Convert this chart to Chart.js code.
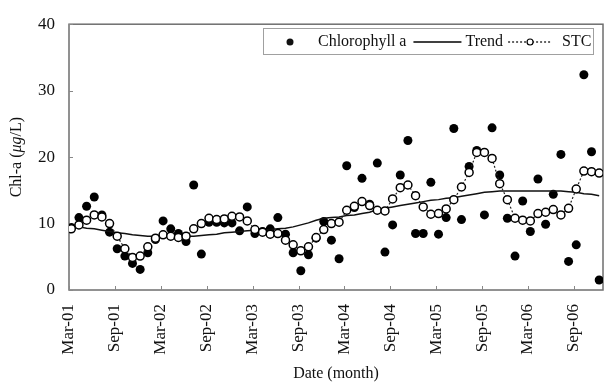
<!DOCTYPE html>
<html>
<head>
<meta charset="utf-8">
<script src="https://cdn.jsdelivr.net/npm/chart.js@4.4.1/dist/chart.umd.min.js"></script>
<style>
  html, body { margin: 0; padding: 0; background: #fff; }
  #wrap { width: 611px; height: 387px; }
</style>
</head>
<body>
<div id="wrap"><canvas id="graficoChl"></canvas></div>
<script>
// monthly samples, Mar-01 .. Dec-06 (70 months)
const chlA = [9.4, 10.9, 12.6, 14.0, 11.3, 8.7, 6.2, 5.1, 4.0, 3.1,
  5.6, 7.6, 10.4, 9.2, 8.5, 7.3, 15.8, 5.4, 10.2, 10.2,
  10.1, 10.1, 8.9, 12.5, 8.5, 8.8, 9.2, 10.9, 8.4, 5.6,
  2.9, 5.3, 7.8, 10.3, 7.5, 4.7, 18.7, 12.4, 16.8, 12.9,
  19.1, 5.7, 9.8, 17.3, 22.5, 8.5, 8.5, 16.2, 8.4, 10.9,
  24.3, 10.6, 18.6, 21.0, 11.3, 24.4, 17.3, 10.8, 5.1, 13.4,
  8.8, 16.7, 9.9, 14.4, 20.4, 4.3, 6.8, 32.4, 20.8, 1.5];

const trend = [9.6, 9.5, 9.3, 9.2, 9.0, 8.8, 8.6, 8.5, 8.3, 8.2,
  8.1, 8.1, 8.1, 8.1, 8.1, 8.1, 8.1, 8.2, 8.3, 8.4,
  8.6, 8.7, 8.8, 8.9, 9.0, 9.0, 9.1, 9.2, 9.3, 9.5,
  9.8, 10.1, 10.5, 10.8, 10.9, 11.0, 11.2, 11.3, 11.5, 11.7,
  12.1, 12.3, 12.5, 12.7, 12.9, 13.1, 13.3, 13.5, 13.6, 13.8,
  13.9, 14.1, 14.3, 14.5, 14.7, 14.8, 14.9, 14.9, 14.9, 14.9,
  14.9, 14.9, 14.9, 14.9, 14.9, 14.8, 14.7, 14.5, 14.4, 14.2];

const stc = [9.2, 9.8, 10.5, 11.3, 11.0, 10.0, 8.1, 6.2, 4.9, 5.1,
  6.5, 7.8, 8.3, 8.1, 7.9, 8.1, 9.2, 10.0, 10.8, 10.6,
  10.7, 11.1, 11.0, 10.4, 9.1, 8.7, 8.4, 8.5, 7.5, 6.8,
  5.9, 6.5, 7.9, 9.1, 10.0, 10.2, 12.0, 12.6, 13.3, 12.7,
  12.0, 11.9, 13.7, 15.4, 15.8, 14.2, 12.5, 11.4, 11.5, 12.2,
  13.6, 15.5, 17.7, 20.7, 20.7, 19.8, 16.0, 13.6, 10.8, 10.5,
  10.4, 11.5, 11.7, 12.1, 11.3, 12.3, 15.2, 17.9, 17.8, 17.6];

// one label every 6 months
const tickLabels = ['Mar-01', 'Sep-01', 'Mar-02', 'Sep-02', 'Mar-03', 'Sep-03',
  'Mar-04', 'Sep-04', 'Mar-05', 'Sep-05', 'Mar-06', 'Sep-06'];

const seriesNames = ['Chlorophyll a', 'Trend', 'STC'];

const SERIF = "'Liberation Serif', 'Times New Roman', serif";

// samples were taken early in each month, so shift them a little past the tick
const toPoints = (arr) => arr.map((v, i) => ({ x: i + 0.3, y: v }));

// frame around the plot and small inward tick marks
const framePlugin = {
  id: 'frame',
  beforeDatasetsDraw(chart) {
    const { ctx, chartArea: a, scales } = chart;
    ctx.save();
    ctx.strokeStyle = '#6e6e6e';
    ctx.lineWidth = 1.5;
    ctx.strokeRect(a.left, a.top, a.right - a.left, a.bottom - a.top);
    ctx.lineWidth = 1;
    ctx.strokeStyle = '#888';
    ctx.beginPath();
    scales.x.ticks.forEach((t) => {
      const px = Math.round(scales.x.getPixelForValue(t.value)) + 0.5;
      ctx.moveTo(px, a.bottom);
      ctx.lineTo(px, a.bottom - 4);
    });
    scales.y.ticks.forEach((t) => {
      const py = Math.round(scales.y.getPixelForValue(t.value)) + 0.5;
      ctx.moveTo(a.left, py);
      ctx.lineTo(a.left + 4, py);
    });
    ctx.stroke();
    ctx.restore();
  },
  afterDraw(chart) {
    const { ctx, chartArea: a } = chart;
    ctx.save();

    // y axis title, with the unit in italics
    const parts = [
      { t: 'Chl-a (', f: '16px ' + SERIF },
      { t: 'μg', f: 'italic 16px ' + SERIF },
      { t: '/L)', f: '16px ' + SERIF },
    ];
    let total = 0;
    parts.forEach((p) => { ctx.font = p.f; p.w = ctx.measureText(p.t).width; total += p.w; });
    ctx.translate(17, (a.top + a.bottom) / 2);
    ctx.rotate(-Math.PI / 2);
    ctx.fillStyle = '#111';
    ctx.textBaseline = 'middle';
    let px = -total / 2;
    parts.forEach((p) => { ctx.font = p.f; ctx.fillText(p.t, px, 0); px += p.w; });
    ctx.restore();

    // legend box
    ctx.save();
    const bx = 263, by = 28, bw = 330, bh = 26, cy = by + bh / 2 + 1;
    ctx.fillStyle = '#fff';
    ctx.fillRect(bx, by, bw, bh);
    ctx.strokeStyle = '#a0a0a0';
    ctx.lineWidth = 1;
    ctx.strokeRect(bx + 0.5, by + 0.5, bw, bh);

    ctx.font = '16px ' + SERIF;
    ctx.fillStyle = '#111';
    ctx.textBaseline = 'middle';
    ctx.strokeStyle = '#000';

    let x = bx + 27;
    ctx.beginPath();
    ctx.arc(x, cy, 3.5, 0, Math.PI * 2);
    ctx.fill();
    x += 28;
    ctx.fillText(seriesNames[0], x, cy);
    x += ctx.measureText(seriesNames[0]).width + 7;

    ctx.lineWidth = 1.5;
    ctx.beginPath();
    ctx.moveTo(x, cy);
    ctx.lineTo(x + 48, cy);
    ctx.stroke();
    x += 52;
    ctx.fillText(seriesNames[1], x, cy);
    x += ctx.measureText(seriesNames[1]).width + 5;

    ctx.lineWidth = 1.2;
    ctx.setLineDash([2, 2]);
    ctx.beginPath();
    ctx.moveTo(x, cy);
    ctx.lineTo(x + 44, cy);
    ctx.stroke();
    ctx.setLineDash([]);
    ctx.beginPath();
    ctx.arc(x + 22, cy, 3, 0, Math.PI * 2);
    ctx.fillStyle = '#fff';
    ctx.fill();
    ctx.stroke();
    ctx.fillStyle = '#111';
    x += 54;
    ctx.fillText(seriesNames[2], x, cy);
    ctx.restore();
  }
};

const ctx = document.getElementById('graficoChl').getContext('2d');
const myChart = new Chart(ctx, {
  type: 'line',
  data: {
    datasets: [
      {
        label: seriesNames[0],
        data: toPoints(chlA),
        showLine: false,
        pointRadius: 4.5,
        pointBackgroundColor: '#000',
        pointBorderColor: '#000',
        pointBorderWidth: 0,
        order: 3,
      },
      {
        label: seriesNames[1],
        data: toPoints(trend),
        borderColor: '#111',
        borderWidth: 1.5,
        pointRadius: 0,
        order: 2,
      },
      {
        label: seriesNames[2],
        data: toPoints(stc),
        borderColor: '#222',
        borderWidth: 1.2,
        borderDash: [2, 2],
        pointRadius: 4,
        pointBackgroundColor: '#fff',
        pointBorderColor: '#000',
        pointBorderWidth: 1.5,
        order: 1,
      },
    ],
  },
  options: {
    responsive: true,
    maintainAspectRatio: false,
    animation: false,
    layout: { padding: { top: 14, right: 8, left: 0, bottom: 0 } },
    plugins: {
      legend: { display: false },
      tooltip: { enabled: false },
    },
    scales: {
      x: {
        type: 'linear',
        min: 0,
        max: 69.8,
        grid: { display: false, drawTicks: false },
        border: { display: false },
        afterBuildTicks: (scale) => {
          scale.ticks = tickLabels.map((_, k) => ({ value: k * 6 }));
        },
        afterFit: (scale) => { scale.height = 97; },
        ticks: {
          minRotation: 90,
          maxRotation: 90,
          padding: 14,
          color: '#111',
          font: { family: SERIF, size: 17 },
          callback: (v) => tickLabels[Math.round(v / 6)],
        },
        title: {
          display: true,
          text: 'Date (month)',
          color: '#111',
          font: { family: SERIF, size: 16 },
          padding: { top: 0, bottom: 4 },
        },
      },
      y: {
        min: 0,
        max: 40,
        grid: { display: false, drawTicks: false },
        border: { display: false },
        afterFit: (scale) => { scale.width = 69; },
        ticks: {
          stepSize: 10,
          padding: 14,
          color: '#111',
          font: { family: SERIF, size: 17 },
        },
      },
    },
  },
  plugins: [framePlugin],
});
</script>
</body>
</html>
